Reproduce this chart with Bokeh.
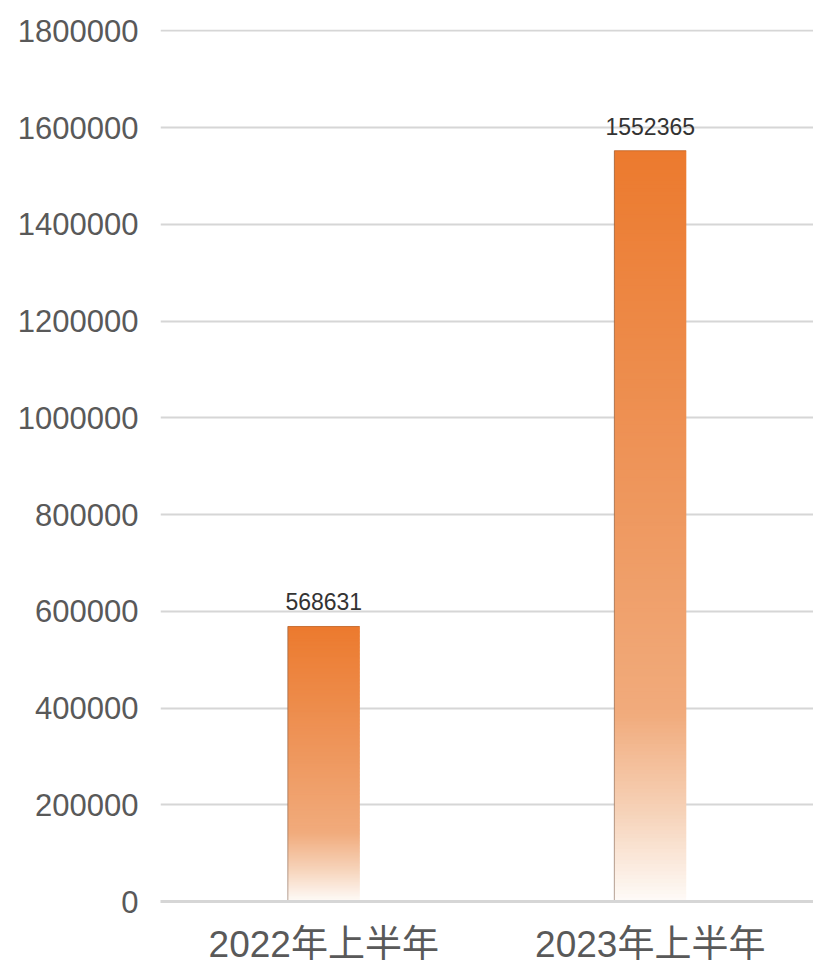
from bokeh.plotting import figure
from bokeh.models import ColumnDataSource, FactorRange, Range1d, FixedTicker, BasicTickFormatter, LabelSet
from bokeh.core.properties import value
from bokeh.transform import dodge
from bokeh.embed import file_html
from bokeh.resources import INLINE

# ---- data ----
categories = ["2022年上半年", "2023年上半年"]
values = [568631, 1552365]
y_ticks = [0, 200000, 400000, 600000, 800000, 1000000, 1200000, 1400000, 1600000, 1800000]

# ---- gradient styling (top orange -> bottom white) ----
stops = [(0.0, (236, 122, 46)), (0.45, (238, 150, 92)), (0.75, (241, 171, 124)),
         (0.88, (246, 210, 184)), (1.0, (254, 251, 248))]

def color_at(t):  # t: 0 top, 1 bottom
    for (t0, c0), (t1, c1) in zip(stops[:-1], stops[1:]):
        if t0 <= t <= t1:
            f = (t - t0) / (t1 - t0) if t1 > t0 else 0
            c = [round(a + (b - a) * f) for a, b in zip(c0, c1)]
            return "#%02x%02x%02x" % tuple(c)
    return "#%02x%02x%02x" % stops[-1][1]

N = 200
xs, bottoms, tops, colors = [], [], [], []
for cat, v in zip(categories, values):
    for i in range(N):
        xs.append(cat)
        bottoms.append(v * i / N)
        tops.append(v * min(i + 2, N) / N)   # slight overlap to hide seams
        colors.append(color_at(1 - (i + 0.5) / N))

grad = ColumnDataSource(dict(x=xs, bottom=bottoms, top=tops, color=colors))
bars = ColumnDataSource(dict(x=categories, top=values, zero=[0] * len(values),
                             label=[str(v) for v in values]))

p = figure(x_range=FactorRange(*categories, range_padding=0),
           y_range=Range1d(0, 1803000),
           width=813, height=967, output_backend="svg", toolbar_location=None,
           min_border_left=160, min_border_right=0, min_border_top=29, min_border_bottom=60)
p.outline_line_color = None
p.background_fill_color = "white"
p.border_fill_color = "white"

BW = 0.22
p.vbar(x="x", width=BW, bottom="bottom", top="top", source=grad,
       fill_color="color", line_color=None)

# thin edges
p.segment(x0=dodge("x", -BW / 2, range=p.x_range), y0="zero",
          x1=dodge("x", -BW / 2, range=p.x_range), y1="top",
          source=bars, line_color="#7a5a45", line_alpha=0.55, line_width=1)
p.segment(x0=dodge("x", -BW / 2, range=p.x_range), y0="top",
          x1=dodge("x", BW / 2, range=p.x_range), y1="top",
          source=bars, line_color="#b0561a", line_alpha=0.6, line_width=1)

labels = LabelSet(x="x", y="top", text="label", source=bars, y_offset=16,
                  text_align="center", text_baseline="alphabetic",
                  text_font=value("Liberation Sans"), text_font_size="23px",
                  text_color="#333333")
p.add_layout(labels)

# axes
p.yaxis.ticker = FixedTicker(ticks=y_ticks)
p.yaxis.formatter = BasicTickFormatter(use_scientific=False)
p.yaxis.axis_line_color = None
p.yaxis.major_tick_line_color = None
p.yaxis.minor_tick_line_color = None
p.yaxis.major_tick_out = 0
p.yaxis.major_tick_in = 0
p.yaxis.major_label_standoff = 22
p.yaxis.major_label_text_font = "Liberation Sans"
p.yaxis.major_label_text_font_size = "31px"
p.yaxis.major_label_text_color = "#595959"

p.xaxis.axis_line_color = "#d6d6d6"
p.xaxis.axis_line_width = 3
p.xaxis.major_tick_line_color = None
p.xaxis.minor_tick_line_color = None
p.xaxis.major_tick_out = 0
p.xaxis.major_tick_in = 0
p.xaxis.major_label_standoff = 22
p.xaxis.major_label_text_font = "Liberation Sans, Noto Sans CJK SC"
p.xaxis.major_label_text_font_size = "37px"
p.xaxis.major_label_text_color = "#595959"

p.xgrid.grid_line_color = None
p.ygrid.ticker = FixedTicker(ticks=y_ticks)
p.ygrid.grid_line_color = "#d6d6d6"
p.ygrid.grid_line_width = 2

open("out.html", "w").write(file_html(p, INLINE))
